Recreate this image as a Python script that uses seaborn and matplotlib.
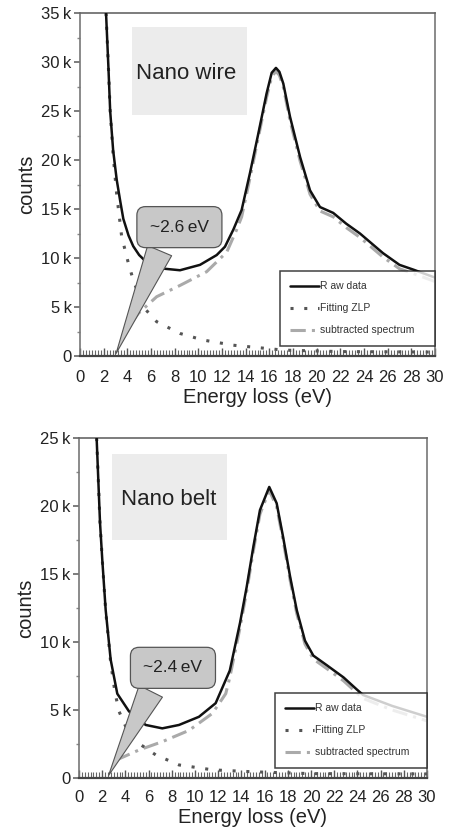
import numpy as np
import pandas as pd
import matplotlib
matplotlib.use("Agg")
import matplotlib.pyplot as plt
from matplotlib.ticker import MultipleLocator, FuncFormatter
import seaborn as sns

# ---------------- data ----------------
# Top panel: Nano wire
wire_raw_x = [2.2, 2.4, 2.55, 2.8, 3.1, 3.4, 3.66, 4.1, 4.5, 5.0, 5.6, 6.76, 8.45, 10.14, 11.55, 12.25, 12.96,
              13.66, 14.37, 15.07, 15.77, 16.2, 16.56, 16.85, 17.18, 17.75, 18.6, 19.44, 20.28, 21.4, 22.5,
              23.66, 25.6, 27.0, 28.2, 30.0]
wire_raw_y = [35000, 29500, 25000, 21000, 18000, 15800, 14000, 12300, 11200, 10300, 9600, 8950, 8750, 9300,
              10300, 11150, 12900, 14900, 18700, 22700, 26800, 28900, 29400, 29000, 27800, 24400, 20300, 16900,
              15200, 14600, 13500, 12500, 10500, 9300, 8800, 8000]
wire_zlp_x = [2.2, 2.4, 2.55, 2.8, 3.1, 3.52, 4.08, 4.5, 5.35, 6.48, 8.45, 10.4, 12.96, 17.2, 22.0, 30.0]
wire_zlp_y = [35000, 29500, 25000, 20500, 16500, 12200, 9500, 7750, 5000, 3500, 2300, 1630, 1100, 600, 450, 400]
wire_sub_x = [4.3, 4.93, 6.48, 8.45, 10.7, 12.4, 13.24, 13.66, 14.37, 15.07, 15.77, 16.2, 16.56, 16.85, 17.18,
              17.75, 18.6, 19.44, 20.28, 21.4, 22.5, 23.66, 25.6, 27.0, 28.2, 30.0]
wire_sub_y = [3300, 4350, 6050, 7200, 8600, 10600, 12900, 14200, 18200, 22300, 26400, 28500, 29050, 28650,
              27450, 24000, 19900, 16500, 14800, 14200, 13100, 12100, 10100, 8900, 8400, 7600]

# Bottom panel: Nano belt
belt_raw_x = [1.52, 1.81, 2.01, 2.3, 2.73, 3.3, 4.31, 5.75, 7.18, 8.62, 10.34, 11.78, 13.0, 13.88, 14.46,
              15.03, 15.6, 16.4, 17.04, 17.6, 18.2, 18.77, 19.48, 20.2, 21.35, 22.8, 23.96, 24.5, 27.0, 30.0]
belt_raw_y = [25000, 18800, 16000, 12350, 8700, 6200, 4900, 3900, 3650, 3900, 4500, 5500, 7900, 11400, 14070,
              17000, 19700, 21400, 20200, 17700, 14800, 12350, 10100, 9000, 8300, 7400, 6500, 6100, 5300, 4500]
belt_zlp_x = [1.52, 1.81, 2.01, 2.3, 2.73, 3.1, 3.45, 4.02, 4.89, 6.61, 8.62, 11.5, 14.9, 20.0, 30.0]
belt_zlp_y = [25000, 18800, 16000, 12300, 8500, 6300, 4900, 3800, 2700, 1700, 960, 600, 460, 320, 300]
belt_sub_x = [3.16, 5.17, 7.18, 9.48, 11.5, 12.65, 13.0, 13.88, 14.46, 15.03, 15.6, 16.4, 17.04, 17.6, 18.2,
              18.77, 19.48, 20.2, 21.35, 22.8, 23.96, 24.5, 27.0, 30.0]
belt_sub_y = [1300, 2060, 2670, 3500, 4750, 6200, 7400, 11050, 13750, 16700, 19400, 21150, 19950, 17450,
              14550, 12100, 9850, 8750, 8050, 7150, 6250, 5850, 5000, 4200]

series_labels = ["R aw data", "Fitting ZLP", "subtracted spectrum"]
panel_names = ["Nano wire", "Nano belt"]
gap_labels = ["~2.6\u2009eV", "~2.4\u2009eV"]
gap_values = [2.96, 2.44]
y_limits = [35000, 25000]
x_label = "Energy loss (eV)"
y_label = "counts"

# ---------------- styling ----------------
sns.set_theme(style="white")
plt.rcParams["font.family"] = ["Liberation Sans", "DejaVu Sans"]

fig = plt.figure(figsize=(4.52, 8.34), dpi=100)
ax_top = fig.add_axes([80 / 452, (834 - 356) / 834, 355 / 452, 343 / 834])
ax_bot = fig.add_axes([79 / 452, (834 - 778) / 834, 348 / 452, 340 / 834])

panels = [
    (ax_top, wire_raw_x, wire_raw_y, wire_zlp_x, wire_zlp_y, wire_sub_x, wire_sub_y,
     (4.37, 24600, 9.73, 9000), (9.0, 28800), (8.4, 13150), 0.28, 10),
    (ax_bot, belt_raw_x, belt_raw_y, belt_zlp_x, belt_zlp_y, belt_sub_x, belt_sub_y,
     (2.82, 17500, 9.9, 6300), (7.7, 20500), (8.1, 8100), 0.26, 9),
]

for i, (ax, rx, ry, zx, zy, sx, sy, rect, name_xy, gap_xy, relx, xpad) in enumerate(panels):
    ax.set_xlim(0, 30)
    ax.set_ylim(0, y_limits[i])
    # light gray label box
    ax.add_patch(plt.Rectangle((rect[0], rect[1]), rect[2], rect[3], facecolor="#ececec",
                               edgecolor="none", zorder=0))
    ax.text(name_xy[0], name_xy[1], panel_names[i], fontsize=16, ha="center", va="center",
            color="#222222", zorder=1)

    sns.lineplot(x=sx, y=sy, ax=ax, color="#aaaaaa", lw=2.2, linestyle=(0, (5, 2, 1, 2)),
                 label=series_labels[2], zorder=2)
    sns.lineplot(x=zx, y=zy, ax=ax, color="#555555", lw=2.2, linestyle=(0, (1, 3.5)),
                 label=series_labels[1], zorder=3)
    sns.lineplot(x=rx, y=ry, ax=ax, color="#111111", lw=1.8, label=series_labels[0], zorder=4)

    ax.annotate(gap_labels[i], xy=(gap_values[i], 0), xytext=gap_xy, fontsize=12.5,
                ha="center", va="center", color="#222222", zorder=6,
                bbox=dict(boxstyle="round,pad=0.75,rounding_size=0.5", fc="#c8c8c8", ec="#555555", lw=0.9),
                arrowprops=dict(arrowstyle="wedge,tail_width=1.5,shrink_factor=0.5", fc="#c8c8c8",
                                ec="#555555", lw=0.8, relpos=(relx, 0.0)))

    handles, labels = ax.get_legend_handles_labels()
    order = [labels.index(l) for l in series_labels]
    leg = ax.legend([handles[k] for k in order], [labels[k] for k in order],
                    loc="lower left", bbox_to_anchor=(0.562, 0.03, 0.438, 0.22), mode="expand",
                    prop={"size": 7.5}, frameon=True, fancybox=False, edgecolor="#111111",
                    handlelength=2.8, handletextpad=0.1, labelspacing=1.15, borderpad=1.0,
                    borderaxespad=0)
    leg.get_frame().set_linewidth(1.1)
    leg.set_zorder(10)
    for t in leg.get_texts():
        t.set_color("#333333")

    # axes styling
    for s in ["left", "right", "top"]:
        ax.spines[s].set_color("#777777")
        ax.spines[s].set_linewidth(1.2)
    ax.spines["top"].set_color("#666666")
    ax.spines["bottom"].set_color("#444444")
    ax.spines["bottom"].set_linewidth(1.6)

    ax.xaxis.set_major_locator(MultipleLocator(2))
    ax.xaxis.set_minor_locator(MultipleLocator(0.25))
    ax.yaxis.set_major_locator(MultipleLocator(5000))
    ax.yaxis.set_minor_locator(MultipleLocator(2500))
    ax.yaxis.set_major_formatter(FuncFormatter(lambda v, p: "0" if v == 0 else f"{int(v / 1000)}\u2009k"))
    ax.tick_params(axis="x", which="major", direction="in", length=6, width=1, color="#555555",
                   labelsize=12, pad=xpad, labelcolor="#222222", bottom=True)
    ax.tick_params(axis="x", which="minor", direction="in", length=4, width=0.8, color="#666666",
                   bottom=True)
    ax.tick_params(axis="y", which="major", direction="out", length=4, width=1.2, color="#666666",
                   labelsize=12, pad=2, labelcolor="#222222", left=True)
    ax.tick_params(axis="y", which="minor", direction="out", length=2.5, width=1, color="#888888",
                   left=True)
    ax.set_xlabel(x_label, fontsize=14.5, color="#222222", labelpad=2)
    ax.set_ylabel(y_label, fontsize=14.5, color="#222222", labelpad=4)
    ax.grid(False)

fig.savefig("out.png", dpi=100, facecolor="white")
